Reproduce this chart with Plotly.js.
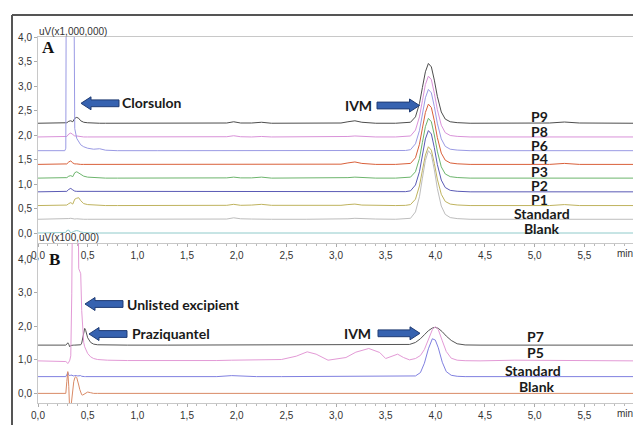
<!DOCTYPE html>
<html>
<head>
<meta charset="utf-8">
<script src="https://cdn.plot.ly/plotly-3.0.1.min.js"></script>
<style>html,body{margin:0;padding:0;background:#fff;}#chart{width:633px;height:425px;}</style>
</head>
<body>
<div id="chart"></div>
<script>
// ---------- DATA ----------
// Panel A (retention time, min)
const xA = [0,0.25,0.27,0.28,0.29,0.31,0.33,0.35,0.36,0.37,0.39,0.41,0.43,0.46,0.50,0.56,0.62,0.68,0.80,
            1.20,1.70,1.90,1.97,2.04,2.15,2.25,2.35,2.70,3.05,3.12,3.19,3.26,3.40,3.60,
            3.70,3.75,3.80,3.84,3.87,3.90,3.93,3.96,3.99,4.02,4.06,4.10,4.15,4.22,4.35,
            4.80,5.15,5.30,5.45,5.99];
const namesA = ['P9','P8','P6','P4','P3','P2','P1','Standard','Blank'];
const baseA = [2.24,1.96,1.68,1.40,1.12,0.84,0.56,0.28,0.0];
const p9A = [0,0,0,0,0.01,0.04,0.05,0.03,0.06,0.10,0.12,0.10,0.05,0.02,0.01,0,0,0,0,
             0,0,0.005,0.03,0.005,0.005,0.02,0,0,0.005,0.03,0.05,0.02,0,0,
             0.004,0.02,0.13,0.40,0.73,1.05,1.22,1.15,0.88,0.55,0.23,0.085,0.03,0.012,0,
             0,0.005,0.025,0.005,0];
const p8A = [0,0,0,0,0.01,0.06,0.08,0.05,0.03,0.02,0.02,0.01,0.01,0,0,0,0,0,0,
             0,0,0.005,0.025,0.005,0,0.01,0,0,0,0.01,0.02,0.01,0,0,
             0.004,0.02,0.14,0.41,0.74,1.07,1.24,1.17,0.89,0.56,0.24,0.087,0.03,0.012,0,
             0,0,0.01,0,0];
const p6A = [0,0,0,0.05,8,9,9,8,4,0.45,0.25,0.17,0.12,0.08,0.05,0.03,0.04,0.01,0,
             0,0,0,0.01,0,0,0.005,0,0,0,0.01,0.015,0.005,0,0,
             0.004,0.02,0.14,0.41,0.75,1.08,1.25,1.18,0.90,0.56,0.24,0.088,0.03,0.012,0,
             0,0,0.005,0,0];
const p4A = [0,0,0,0,0.01,0.05,0.07,0.03,0.02,0.01,0.01,0,0,0,0,0,0,0,0,
             0,0,0,0.01,0,0,0.005,0,0,0.005,0.03,0.05,0.02,0,0,
             0.004,0.02,0.135,0.41,0.74,1.06,1.23,1.16,0.89,0.55,0.23,0.086,0.03,0.012,0,
             0,0,0.02,0,0];
const p3A = [0,0,0,0,0.01,0.04,0.05,0.03,0.07,0.11,0.13,0.10,0.07,0.04,0.02,0.01,0.005,0,0,
             0,0,0.005,0.02,0.005,0.005,0.02,0,0,0,0.01,0.02,0.01,0,0,
             0.004,0.02,0.13,0.40,0.73,1.05,1.22,1.15,0.88,0.55,0.23,0.085,0.03,0.012,0,
             0,0,0.01,0,0];
const p2A = [0,0,0,0,0.01,0.05,0.07,0.04,0.02,0.015,0.01,0.01,0.005,0,0,0,0,0,0,
             0,0,0,0.01,0,0,0.005,0,0,0,0.01,0.015,0.005,0,0,
             0.004,0.02,0.14,0.41,0.75,1.08,1.25,1.18,0.90,0.56,0.24,0.088,0.03,0.012,0,
             0,0,0.005,0,0];
const p1A = [0,0,0,0,0.01,0.04,0.06,0.03,0.08,0.13,0.15,0.16,0.10,0.04,0.02,0.01,0,0,0,
             0,0,0.005,0.025,0.005,0.01,0.025,0.005,0,0.005,0.02,0.03,0.01,0,0,
             0.004,0.02,0.13,0.40,0.72,1.03,1.20,1.13,0.86,0.54,0.23,0.084,0.03,0.012,0,
             0,0,0.02,0,0];
const stdA = [0,0,0,0,0.005,0.015,0.02,0.01,0.005,0.005,0.01,0.005,0,0,0,0,0,0,0,
              0,0,0.005,0.03,0.01,0.005,0.01,0,0,0,0.01,0.02,0.01,0.005,0,
              0.004,0.02,0.15,0.46,0.84,1.20,1.40,1.32,1.01,0.63,0.27,0.10,0.035,0.014,0,
              0,0,0.01,0,0];
const blankA = [0,0,0,0.01,0.05,0.06,0,0.01,0.03,0.04,0.05,0.04,0.02,0.01,0,0,0,0,0,
                0,0,0,0,0,0,0,0,0,0,0,0,0,0,0,
                0,0,0,0,0,0,0,0,0,0,0,0,0,0,0,
                0,0,0,0,0];

// Panel B
const xB = [0,0.25,0.28,0.29,0.30,0.31,0.32,0.33,0.34,0.35,0.36,0.37,0.38,0.39,0.40,0.41,0.42,0.43,0.44,0.45,0.46,0.47,0.48,0.50,0.53,0.56,0.60,0.70,0.90,
            1.30,1.80,1.95,2.05,2.20,2.45,2.60,2.71,2.80,2.92,3.10,3.20,3.33,3.44,3.50,3.56,3.62,3.68,
            3.74,3.80,3.85,3.89,3.93,3.97,4.00,4.03,4.07,4.11,4.16,4.22,4.30,
            4.45,4.80,5.20,5.60,5.99];
const namesB = ['P7','P5','Standard','Blank'];
const baseB = [1.44,0.97,0.50,0.0];
const p7B = [0,0,0,0.03,0.07,0.02,-0.05,-0.01,0,0,0,0,0,0,0,0,0,0.01,0.06,0.22,0.42,0.50,0.44,0.22,0.08,0.03,0.01,0,0,
             0,0,0,0.005,0,0,0,0,0,0,0,0,0,0,0,0,0,0.005,
             0.02,0.08,0.19,0.31,0.43,0.51,0.53,0.50,0.40,0.27,0.14,0.04,0.005,
             0,0,0,0,0];
const p5B = [0,0,-0.02,-0.04,-0.08,-0.04,0.02,0.15,2.0,6,7,7,7,7,6,2.75,2.68,2.6,1.5,0.8,0.55,0.42,0.33,0.22,0.12,0.07,0.04,0.02,0.01,
             0,0.01,0.02,0.02,0.02,0.04,0.14,0.27,0.20,0.02,0.10,0.26,0.37,0.25,0.07,0.13,0.20,0.10,
             0.03,0.07,0.16,0.34,0.63,0.93,1.02,0.93,0.60,0.28,0.08,0.02,0.005,
             0,0.02,0.02,0.01,0];
const stdB = [0,0,0,0.06,0.12,0.05,0.02,0.05,0.04,0.02,0.02,0.03,0.04,0.03,0.02,0.03,0.04,0.03,0.01,0,0,0,0,0,0,0,0,0,0,
              0,0,0.03,0.02,0,0,0,0,0,0,0.005,0.015,0.01,0,0,0,0,0,
              0.005,0.02,0.12,0.40,0.83,1.13,1.09,0.86,0.43,0.15,0.04,0.01,0,
              0,0,0,0,0];
const blankB = [0,0,0,0.35,0.65,0.2,-0.6,-0.45,-0.15,0.15,0.35,0.46,0.5,0.47,0.38,0.25,0.12,0.02,-0.04,-0.05,-0.03,-0.01,0.01,0.04,0.02,0,0,0,0,
                0,0,0,0,0,0,0,0,0,0,0,0,0,0,0,0,0,0,
                0,0,0,0,0,0,0,0,0,0,0,0,0,
                0,0,0,0,0];

const xTickVals = [0,0.5,1,1.5,2,2.5,3,3.5,4,4.5,5,5.5];
const xTickText = ['0,0','0,5','1,0','1,5','2,0','2,5','3,0','3,5','4,0','4,5','5,0','5,5'];
const yTickValsA = [0,0.5,1,1.5,2,2.5,3,3.5,4];
const yTickTextA = ['0,0','0,5','1,0','1,5','2,0','2,5','3,0','3,5','4,0'];
const yTickValsB = [0,1,2,3,4];
const yTickTextB = ['0,0','1,0','2,0','3,0','4,0'];

// ---------- STYLE / LAYOUT ----------
const W = 633, H = 425;
const px = v => v / W;
const py = v => 1 - v / H;

const seriesA = [p9A,p8A,p6A,p4A,p3A,p2A,p1A,stdA,blankA];
const colorsA = ['#4d4d4d','#d992d9','#9a9ae4','#d9603a','#6db56d','#5a5ab5','#bfb35e','#bdbdbd','#8fcaca'];
const seriesB = [p7B,p5B,stdB,blankB];
const colorsB = ['#555555','#e39ad6','#8080e0','#d98a66'];

const traces = [];
seriesA.forEach((s,i)=>{
  traces.push({x:xA, y:s.map(v=>v+baseA[i]), xaxis:'x', yaxis:'y', mode:'lines',
    name:namesA[i], line:{color:colorsA[i], width:1}, hoverinfo:'skip'});
});
seriesB.forEach((s,i)=>{
  traces.push({x:xB, y:s.map(v=>v+baseB[i]), xaxis:'x2', yaxis:'y2', mode:'lines',
    name:namesB[i], line:{color:colorsB[i], width:1}, hoverinfo:'skip'});
});

const tickFont = {family:'Liberation Sans Narrow, Liberation Sans, Arial, sans-serif', size:10, color:'#333'};
const labFont = {family:'Lato, Open Sans, sans-serif', size:14, color:'#1a1a1a'};

function xAxis(anchor, mirror){
  return {domain:[px(38),1], range:[0,5.99], anchor:anchor, tickmode:'array', tickvals:xTickVals, ticktext:xTickText,
    ticks:'outside', ticklen:3, tickcolor:'#aaaaaa', showline:true, linecolor:'#c8c8c8', linewidth:1, mirror:mirror,
    showgrid:false, zeroline:false, tickfont:tickFont, fixedrange:true,
    minor:{ticks:'outside', ticklen:2, tickcolor:'#bbbbbb', tick0:0, dtick:0.1}};
}
function yAxis(anchor, dom, rng, tv, tt){
  return {domain:dom, range:rng, anchor:anchor, tickmode:'array', tickvals:tv, ticktext:tt,
    ticks:'outside', ticklen:3, tickcolor:'#aaaaaa', showline:true, linecolor:'#c8c8c8', linewidth:1,
    showgrid:false, zeroline:false, tickfont:tickFont, fixedrange:true};
}

const ann = [];
function txt(t, x, y, xa, font){ ann.push({text:t, x:px(x), y:py(y), xref:'paper', yref:'paper', xanchor:xa, yanchor:'middle', showarrow:false, font:font}); }
const bold = t => '<b>'+t+'</b>';

txt('uV(x1,000,000)', 37, 31.5, 'left', tickFont);
txt('uV(x100,000)', 37, 237.5, 'left', tickFont);
txt('min', 625, 253, 'center', tickFont);
txt('min', 625, 413, 'center', tickFont);
txt(bold('A'), 48, 47, 'center', {family:'Liberation Serif, DejaVu Serif, serif', size:17, color:'#111'});
txt(bold('B'), 54, 259.5, 'center', {family:'Liberation Serif, DejaVu Serif, serif', size:17, color:'#111'});
txt(bold('Clorsulon'), 120, 102.7, 'left', labFont);
txt(bold('IVM'), 374, 105, 'right', labFont);
txt(bold('Unlisted excipient'), 125, 304, 'left', labFont);
txt(bold('Praziquantel'), 130, 333.5, 'left', labFont);
txt(bold('IVM'), 372.5, 333, 'right', labFont);
const labPosA = [[539,116.7],[539,131],[539,145.7],[539,158.5],[539,171.7],[539,185.5],[539,199.3],[541.5,213.3],[541.5,228.3]];
namesA.forEach((n,i)=>txt(bold(n), labPosA[i][0], labPosA[i][1], 'center', labFont));
const labPosB = [[535,336.7],[535,352.7],[533,370.7],[537,386]];
namesB.forEach((n,i)=>txt(bold(n), labPosB[i][0], labPosB[i][1], 'center', labFont));

const shapes = [];
function arrow(tipX, tipY, tailX, dir){
  const hl = 10*dir, hh = 6.5, sh = 3.4;
  const pts = [[tipX,tipY],[tipX+hl,tipY-hh],[tipX+hl,tipY-sh],[tailX,tipY-sh],[tailX,tipY+sh],[tipX+hl,tipY+sh],[tipX+hl,tipY+hh]];
  const path = 'M ' + pts.map(p=>px(p[0]).toFixed(5)+','+py(p[1]).toFixed(5)).join(' L ') + ' Z';
  shapes.push({type:'path', xref:'paper', yref:'paper', path:path, fillcolor:'#3662b0', line:{color:'#203c74', width:1}});
}
arrow(81, 103.3, 119, 1);
arrow(419.5, 105.5, 377, -1);
arrow(85, 304, 123, 1);
arrow(89, 334, 127, 1);
arrow(420, 333.3, 378, -1);
// outer frame
shapes.push({type:'line', xref:'paper', yref:'paper', x0:px(12), x1:1.01, y0:py(15), y1:py(15), line:{color:'#555', width:2}});
shapes.push({type:'line', xref:'paper', yref:'paper', x0:px(12), x1:px(12), y0:py(15), y1:-0.05, line:{color:'#555', width:2}});

const layout = {
  width:W, height:H, margin:{l:0,r:0,t:0,b:0}, paper_bgcolor:'#ffffff', plot_bgcolor:'#ffffff', showlegend:false,
  xaxis: xAxis('y', true),
  yaxis: yAxis('x', [py(243), py(37)], [-0.204, 4.0], yTickValsA, yTickTextA),
  xaxis2: xAxis('y2', false),
  yaxis2: yAxis('x2', [py(403), py(243)], [-0.287, 4.487], yTickValsB, yTickTextB),
  annotations: ann, shapes: shapes
};
Plotly.newPlot('chart', traces, layout, {staticPlot:true, displayModeBar:false});
</script>
</body>
</html>
